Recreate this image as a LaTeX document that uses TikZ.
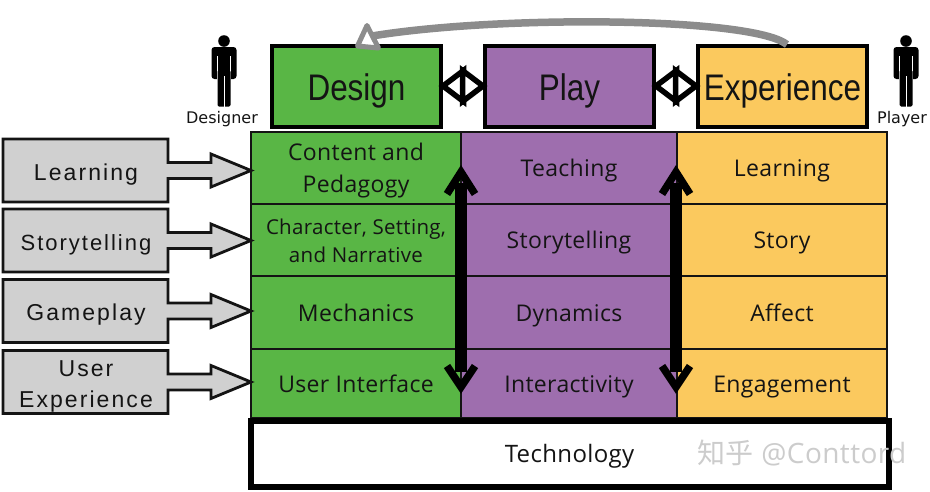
\documentclass[tikz,border=0pt]{standalone}
\usepackage{fontspec}
\setmainfont[LetterSpace=1.5]{Open Sans}
\newfontfamily\topf[FakeStretch=0.85]{Liberation Sans}
\newfontfamily\sidef[LetterSpace=9]{Liberation Sans}
\newfontfamily\figf{DejaVu Sans}
\newfontfamily\cjkf{Noto Sans CJK SC}
\definecolor{cgreen}{HTML}{59B645}
\definecolor{cpurple}{HTML}{9E6EAE}
\definecolor{corange}{HTML}{FBC95E}
\definecolor{cside}{HTML}{D0D0D0}
\definecolor{cink}{HTML}{141414}
\definecolor{ccurve}{HTML}{8C8C8C}
\newcommand{\rcell}{\rule[-7pt]{0pt}{31pt}}
\newcommand{\rnarrow}{\rule[-5pt]{0pt}{26pt}}
\newcommand{\rside}{\rule[-5pt]{0pt}{29pt}}
\newcommand{\rtop}{\rule[-8pt]{0pt}{44pt}}
\tikzset{
  topbox/.style={draw=black,line width=4pt,minimum width=169pt,minimum height=81pt,inner sep=0pt,text=cink,font=\topf\fontsize{37}{40}\selectfont},
  cell/.style={draw=cink,line width=2.5pt,inner sep=0pt,text=cink,align=center,font=\fontsize{23}{32}\selectfont},
  sidebox/.style={inner sep=0pt,text=cink,align=center,font=\sidef\fontsize{23}{31}\selectfont},
  sideshape/.style={draw=cink,line width=2.8pt,fill=cside,line join=miter},
  figlabel/.style={inner sep=0pt,text=cink,font=\figf\fontsize{16}{18}\selectfont},
  diamondhead/.style={draw=black,line width=5.5pt,fill=white,line join=miter},
  vhead/.style={draw=black,line width=7.5pt,line join=miter},
  vshaft/.style={draw=black,line width=12.5pt},
}
\newcommand{\sideitem}[3]{% name, centre y, text
  \path[sideshape] (3,#2-31.5) -- (168,#2-31.5) -- (168,#2-8) -- (211,#2-8) -- (211,#2-16.5) -- (251,#2) -- (211,#2+16.5) -- (211,#2+8) -- (168,#2+8) -- (168,#2+31.5) -- (3,#2+31.5) -- cycle;
  \node[sidebox] (#1) at (86,#2) {#3};
}
\newcommand{\person}[2]{% name, centre x
  \fill[black] (#2,41) circle (5.8);
  \fill[black,rounded corners=3pt] (#2-12.5,47) rectangle (#2+12.5,79);
  \fill[white] (#2-7.3,56) rectangle (#2-6.3,80);
  \fill[white] (#2+6.3,56) rectangle (#2+7.3,80);
  \fill[black,rounded corners=1.5pt] (#2-6.5,70) rectangle (#2+6.5,106.5);
  \fill[white] (#2-0.5,76) rectangle (#2+0.5,107);
  \coordinate (#1) at (#2,47);
}
\begin{document}
\begin{tikzpicture}[x=1pt,y=-1pt]
\useasboundingbox (0,0) rectangle (930,491);
% grid
\foreach \n/\x/\y/\w/\h/\c/\t in {
 a1/356/168/210/72/cgreen/{\rcell Content and\\\rcell Pedagogy},
 a3/356/312.5/210/73/cgreen/\rcell Mechanics,
 a4/356/383.5/210/69/cgreen/\rcell User Interface,
 b1/569/168/216/72/cpurple/\rcell Teaching,
 b2/569/240/216/72/cpurple/\rcell Storytelling,
 b3/569/312.5/216/73/cpurple/\rcell Dynamics,
 b4/569/383.5/216/69/cpurple/\rcell Interactivity,
 c1/782/168/210/72/corange/\rcell Learning,
 c2/782/240/210/72/corange/\rcell Story,
 c3/782/312.5/210/73/corange/\rcell Affect,
 c4/782/383.5/210/69/corange/\rcell Engagement}
 {\node[cell,fill=\c,minimum width=\w pt,minimum height=\h pt] (\n) at (\x,\y) {\t};}
\node[cell,fill=cgreen,minimum width=210pt,minimum height=72pt,font=\fontsize{20.5}{28}\selectfont] (a2) at (356,240) {\rnarrow Character, Setting,\\\rnarrow and Narrative};
% technology
\node[cell,draw=black,line width=6pt,fill=white,minimum width=638pt,minimum height=66pt,font=\fontsize{24}{32}\selectfont] (tech) at (569.5,453.5) {\rcell Technology};
% top boxes
\node[topbox,fill=cgreen] (design) at (356.5,86) {\rtop Design};
\node[topbox,fill=cpurple] (play) at (569.5,86) {\rtop Play};
\node[topbox,fill=corange] (experience) at (782.5,86) {\rtop Experience};
% diamonds
\foreach \l/\r in {design/play,play/experience}{
  \draw[diamondhead] (\l.east) -- ++(20.5,-15.5) -- ++(0,31) -- cycle;
  \draw[diamondhead] (\r.west) -- ++(-20.5,-15.5) -- ++(0,31) -- cycle;
}
% curved feedback
\coordinate (curvestart) at (787,44.5);
\coordinate (curveend) at (372,36);
\draw[ccurve,line width=7.5pt] (curvestart) .. controls (752,17) and (500,15) .. (curveend);
\draw[ccurve,fill=white,line width=5pt,line join=round] (367,25.5) -- (357.5,46) -- (378.5,48) -- cycle;
% vertical double arrows
\foreach \x/\n in {461/a,676/b}{
  \coordinate (\n top) at (\x,183);
  \coordinate (\n bot) at (\x,372);
  \draw[vshaft] (\n top) -- (\n bot);
  \draw[vhead] (\n top) ++(-14,11) -- ++(14,-22) -- ++(14,22);
  \draw[vhead] (\n bot) ++(-14,-6) -- ++(14,21) -- ++(14,-21);
}
% side boxes
\sideitem{s1}{170.5}{\rside Learning}
\sideitem{s2}{240.5}{\fontsize{22}{31}\selectfont\rside Storytelling}
\sideitem{s3}{311}{\rside Gameplay}
\sideitem{s4}{382}{\rside User\\\rside Experience}
% people
\person{designerfig}{224}
\person{playerfig}{906}
\node[figlabel] (designer) at (222,119.5) {Designer};
\node[figlabel] (player) at (902,119.5) {Player};
% watermark
\node[inner sep=0pt,text=black!20,font=\fontsize{28}{30}\selectfont] (wm) at (802,452.5) {{\cjkf 知乎} @Conttord};
\end{tikzpicture}
\end{document}
